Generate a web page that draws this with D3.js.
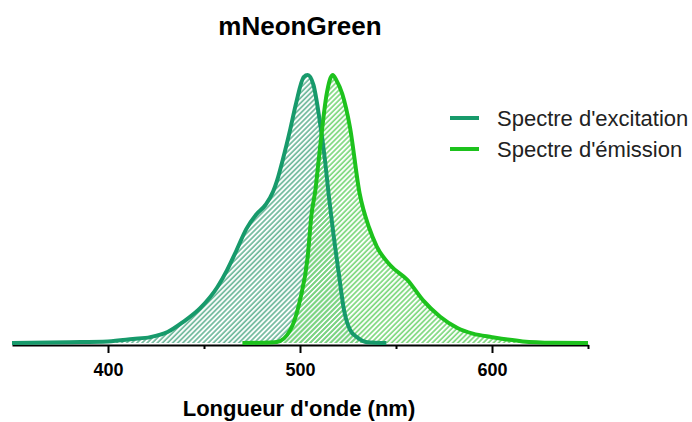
<!DOCTYPE html>
<html>
<head>
<meta charset="utf-8">
<script src="https://cdn.jsdelivr.net/npm/d3@7"></script>
<style>
  body { margin: 0; background: #fff; }
  text { font-family: "Liberation Sans", Arial, sans-serif; }
</style>
</head>
<body>
<div id="chart"></div>
<script>
// excitation spectrum (nm, relative intensity)
const excWl = [350, 380, 400, 413, 422, 431, 439, 448, 457, 462, 467, 472, 477, 482, 486, 488, 491, 495, 498, 502, 504, 507, 510, 513, 515, 517, 520, 523, 526, 530, 535, 545];
const excVal = [0, 0.003, 0.006, 0.015, 0.022, 0.041, 0.078, 0.13, 0.209, 0.272, 0.347, 0.425, 0.478, 0.515, 0.565, 0.605, 0.683, 0.8, 0.896, 0.993, 1.0, 0.963, 0.843, 0.683, 0.55, 0.43, 0.27, 0.12, 0.05, 0.02, 0.003, 0];

// emission spectrum
const emWl = [470, 480, 488, 495, 500, 504, 506, 508, 510, 514, 517, 519, 522, 526, 531, 536, 540, 547, 556, 564, 573, 582, 590, 600, 616, 632, 650];
const emVal = [0, 0.001, 0.004, 0.049, 0.16, 0.321, 0.48, 0.57, 0.7, 0.933, 1.0, 0.98, 0.93, 0.806, 0.56, 0.43, 0.36, 0.29, 0.235, 0.16, 0.098, 0.056, 0.035, 0.022, 0.006, 0.001, 0];

const xTicks = [400, 450, 500, 550, 600, 650];
const majorTicks = [400, 500, 600];
const seriesNames = ["Spectre d'excitation", "Spectre d'émission"];
const seriesColors = ["#179a6b", "#1dc21d"];
const hatchColors = ["#6fb89b", "#7dd87d"];

const W = 692, H = 422;
const svg = d3.select("#chart").append("svg")
  .attr("width", W).attr("height", H);

const x = d3.scaleLinear().domain([350, 650]).range([12, 588]);
const y = d3.scaleLinear().domain([0, 1]).range([343, 75]);

// hatch patterns
const defs = svg.append("defs");
hatchColors.forEach((c, i) => {
  const p = defs.append("pattern")
    .attr("id", "hatch" + i)
    .attr("patternUnits", "userSpaceOnUse")
    .attr("width", 3.6).attr("height", 3.6)
    .attr("patternTransform", "rotate(45)");
  p.append("line")
    .attr("x1", 1).attr("y1", 0).attr("x2", 1).attr("y2", 3.6)
    .attr("stroke", c).attr("stroke-width", 1.7);
});

const series = [
  excWl.map((w, i) => ({ w, v: excVal[i] })),
  emWl.map((w, i) => ({ w, v: emVal[i] })),
];

const area = d3.area()
  .x(d => x(d.w)).y0(y(0)).y1(d => y(d.v))
  .curve(d3.curveMonotoneX);
const line = d3.line()
  .x(d => x(d.w)).y(d => y(d.v))
  .curve(d3.curveMonotoneX);

// axis
const axis = svg.append("g")
  .attr("transform", "translate(0,345)")
  .call(d3.axisBottom(x).tickValues(xTicks).tickSize(8).tickSizeOuter(0).tickPadding(10));
axis.select(".domain").attr("stroke", "#000").attr("stroke-width", 2);
axis.selectAll(".tick line").attr("stroke", "#000").attr("stroke-width", 2)
  .attr("y2", d => majorTicks.includes(d) ? 8 : 4);
axis.selectAll(".tick text")
  .text(d => majorTicks.includes(d) ? d : "")
  .attr("fill", "#000")
  .style("font-size", "18px").style("font-weight", "bold")
  .style("font-family", "'Liberation Sans', Arial, sans-serif");

series.forEach((s, i) => {
  svg.append("path").datum(s)
    .attr("d", area)
    .attr("fill", `url(#hatch${i})`);
});
series.forEach((s, i) => {
  svg.append("path").datum(s)
    .attr("d", line)
    .attr("fill", "none")
    .attr("stroke", seriesColors[i])
    .attr("stroke-width", 4)
    .attr("stroke-linejoin", "round");
});

// title and axis label
svg.append("text")
  .attr("x", 300).attr("y", 35)
  .attr("text-anchor", "middle")
  .style("font-size", "26px").style("font-weight", "bold")
  .text("mNeonGreen");

svg.append("text")
  .attr("x", 299).attr("y", 416)
  .attr("text-anchor", "middle")
  .style("font-size", "22px").style("font-weight", "bold")
  .text("Longueur d'onde (nm)");

// legend
const legend = svg.append("g").attr("transform", "translate(450,118)");
seriesNames.forEach((name, i) => {
  const g = legend.append("g").attr("transform", `translate(0,${i * 31})`);
  g.append("line")
    .attr("x1", 0).attr("x2", 29).attr("y1", 0).attr("y2", 0)
    .attr("stroke", seriesColors[i]).attr("stroke-width", 4);
  g.append("text")
    .attr("x", 47).attr("y", 7.5)
    .style("font-size", "22px")
    .attr("fill", "#222")
    .text(name);
});
</script>
</body>
</html>
